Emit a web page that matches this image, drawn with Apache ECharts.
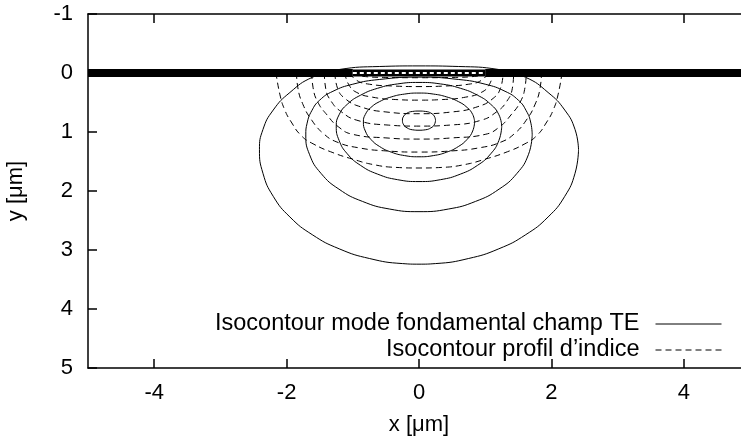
<!DOCTYPE html>
<html><head><meta charset="utf-8">
<script src="https://cdn.jsdelivr.net/npm/echarts@6/dist/echarts.min.js"></script>
<style>html,body{margin:0;padding:0;background:#fff;overflow:hidden}#c{width:760px;height:442px}</style>
</head><body><div id="c"></div>
<script>
// ---- data ----
const xTickValues = [-4, -2, 0, 2, 4];
const legendNames = ['Isocontour mode fondamental champ TE', 'Isocontour profil d\u2019indice'];

// field (TE mode) isocontours, closed curves [x, y]
const field1 = [[0.25,0.80],[0.23,0.73],[0.18,0.68],[0.1,0.652],[0,0.645],[-0.1,0.652],[-0.18,0.68],[-0.23,0.73],[-0.25,0.80],[-0.23,0.88],[-0.18,0.93],[-0.1,0.962],[0,0.97],[0.1,0.962],[0.18,0.93],[0.23,0.88],[0.25,0.80]];
const field2 = [[0.84,0.83],[0.811,0.703],[0.727,0.585],[0.594,0.484],[0.42,0.406],[0.217,0.357],[0,0.34],[-0.217,0.357],[-0.42,0.406],[-0.594,0.484],[-0.727,0.585],[-0.811,0.703],[-0.84,0.83],[-0.811,0.983],[-0.727,1.125],[-0.594,1.247],[-0.42,1.341],[-0.217,1.40],[0,1.42],[0.217,1.40],[0.42,1.341],[0.594,1.247],[0.727,1.125],[0.811,0.983],[0.84,0.83]];
const field3 = [[1.25,0.9],[1.207,0.708],[1.083,0.53],[0.884,0.377],[0.625,0.259],[0.324,0.185],[0,0.16],[-0.324,0.185],[-0.625,0.259],[-0.884,0.377],[-1.083,0.53],[-1.207,0.708],[-1.25,0.9],[-1.207,1.143],[-1.083,1.37],[-0.884,1.565],[-0.625,1.714],[-0.324,1.808],[0,1.84],[0.324,1.808],[0.625,1.714],[0.884,1.565],[1.083,1.37],[1.207,1.143],[1.25,0.9]];
const field4 = [[1.71,1.05],[1.69,0.85],[1.62,0.64],[1.5,0.46],[1.3,0.31],[1.0,0.19],[0.6,0.11],[0,0.07],[-0.6,0.11],[-1.0,0.19],[-1.3,0.31],[-1.5,0.46],[-1.62,0.64],[-1.69,0.85],[-1.71,1.05],[-1.652,1.386],[-1.481,1.70],[-1.209,1.969],[-0.855,2.176],[-0.443,2.306],[0,2.35],[0.443,2.306],[0.855,2.176],[1.209,1.969],[1.481,1.70],[1.652,1.386],[1.71,1.05]];
const field5 = [[2.41,1.3],[2.357,0.957],[2.202,0.628],[1.95,0.33],[1.613,0.074],[1.2,-0.06],[0.6,-0.11],[0,-0.12],[-0.6,-0.11],[-1.2,-0.06],[-1.613,0.074],[-1.95,0.33],[-2.202,0.628],[-2.357,0.957],[-2.41,1.3],[-2.357,1.70],[-2.202,2.09],[-1.95,2.44],[-1.613,2.74],[-1.205,2.98],[-0.745,3.145],[-0.252,3.23],[0,3.24],[0.252,3.23],[0.745,3.145],[1.205,2.98],[1.613,2.74],[1.95,2.44],[2.202,2.09],[2.357,1.70],[2.41,1.3]];

// index profile isocontours, open curves [x, y]
const indexA = [[-2.16,0],[-2.10,0.37],[-2.03,0.62],[-1.93,0.83],[-1.78,1.06],[-1.60,1.2],[-1.30,1.35],[-1.0,1.46],[-0.7,1.55],[-0.35,1.60],[0,1.61],[0.35,1.60],[0.7,1.55],[1.0,1.46],[1.30,1.35],[1.60,1.2],[1.78,1.06],[1.93,0.83],[2.03,0.62],[2.10,0.37],[2.16,0]];
const indexB = [[-1.85,0],[-1.83,0.25],[-1.75,0.54],[-1.62,0.8],[-1.45,1.02],[-1.24,1.17],[-0.9,1.27],[-0.5,1.32],[0,1.34],[0.5,1.32],[0.9,1.27],[1.24,1.17],[1.45,1.02],[1.62,0.8],[1.75,0.54],[1.83,0.25],[1.85,0]];
const indexC = [[-1.62,0],[-1.60,0.25],[-1.53,0.49],[-1.39,0.71],[-1.22,0.91],[-1.0,1.04],[-0.5,1.10],[0,1.12],[0.5,1.10],[1.0,1.04],[1.22,0.91],[1.39,0.71],[1.53,0.49],[1.60,0.25],[1.62,0]];
const indexD = [[-1.43,0],[-1.41,0.26],[-1.32,0.49],[-1.17,0.66],[-0.94,0.80],[-0.5,0.88],[0,0.90],[0.5,0.88],[0.94,0.80],[1.17,0.66],[1.32,0.49],[1.41,0.26],[1.43,0]];
const indexE = [[-1.27,0],[-1.23,0.26],[-1.12,0.43],[-0.89,0.57],[-0.5,0.66],[0,0.69],[0.5,0.66],[0.89,0.57],[1.12,0.43],[1.23,0.26],[1.27,0]];
const indexF = [[-1.12,0],[-1.06,0.2],[-0.94,0.33],[-0.7,0.41],[-0.35,0.45],[0,0.46],[0.35,0.45],[0.7,0.41],[0.94,0.33],[1.06,0.2],[1.12,0]];
const indexG = [[-1.04,0],[-0.95,0.12],[-0.75,0.19],[-0.4,0.22],[0,0.23],[0.4,0.22],[0.75,0.19],[0.95,0.12],[1.04,0]];
const indexH = [[-1.0,0],[-0.9,0.05],[-0.5,0.075],[0,0.08],[0.5,0.075],[0.9,0.05],[1.0,0]];

// surface (y = 0)
const surfaceLeft = [[-5,0],[-1,0]];
const surfaceRight = [[1,0],[5,0]];
const surfaceGuide = [[-1,0],[1,0]];

// ---- chart ----
const FONT = '"Liberation Sans", Arial, Helvetica, sans-serif';
const axisLineStyle = {color:'#000', width:1.5};
const chart = echarts.init(document.getElementById('c'), null, {renderer:'canvas'});

function contour(name, data, dashed) {
  return {type:'line', name:name, data:data, symbol:'none', showSymbol:false, smooth:0.5,
    silent:true, animation:false, z:2, xAxisIndex:0, yAxisIndex:0,
    lineStyle:{color:'#000', width:1, type: dashed ? [6,4] : 'solid'}};
}
function surface(data, width, color, dash, z) {
  return {type:'line', data:data, symbol:'none', showSymbol:false, silent:true, animation:false,
    z:z, xAxisIndex:0, yAxisIndex:0, lineStyle:{color:color, width:width, type:dash || 'solid', cap:'butt'}};
}

const series = [
  contour(legendNames[0], field1, false),
  contour(legendNames[0], field2, false),
  contour(legendNames[0], field3, false),
  contour(legendNames[0], field4, false),
  contour(legendNames[0], field5, false),
  contour(legendNames[1], indexA, true),
  contour(legendNames[1], indexB, true),
  contour(legendNames[1], indexC, true),
  contour(legendNames[1], indexD, true),
  contour(legendNames[1], indexE, true),
  contour(legendNames[1], indexF, true),
  contour(legendNames[1], indexG, true),
  contour(legendNames[1], indexH, true),
  surface(surfaceLeft, 8, '#000', null, 5),
  surface(surfaceRight, 8, '#000', null, 5),
  surface(surfaceGuide, 7, '#000', null, 5),
  surface(surfaceGuide, 2, '#fff', [4,3], 6)
];

const tickCommon = {inside:true, length:9, lineStyle:axisLineStyle};

chart.setOption({
  animation:false,
  backgroundColor:'#fff',
  textStyle:{fontFamily:FONT},
  grid:{left:88, top:14, width:662, bottom:74, containLabel:false, outerBoundsMode:'none'},
  xAxis:[
    {type:'value', position:'bottom', min:-5, max:5,
     axisLine:{onZero:false, lineStyle:axisLineStyle},
     axisTick:Object.assign({customValues:xTickValues}, tickCommon),
     axisLabel:{customValues:xTickValues, fontSize:22, color:'#000', margin:14, fontFamily:FONT},
     splitLine:{show:false},
     name:'x [\u03bcm]', nameLocation:'middle', nameGap:46,
     nameTextStyle:{fontSize:22, color:'#000', fontFamily:FONT}},
    {type:'value', position:'top', min:-5, max:5,
     axisLine:{onZero:false, lineStyle:axisLineStyle},
     axisTick:Object.assign({customValues:xTickValues}, tickCommon),
     axisLabel:{show:false}, splitLine:{show:false}}
  ],
  yAxis:[
    {type:'value', position:'left', inverse:true, min:-1, max:5, interval:1,
     axisLine:{onZero:false, lineStyle:axisLineStyle},
     axisTick:tickCommon,
     axisLabel:{fontSize:22, color:'#000', margin:15, fontFamily:FONT},
     splitLine:{show:false},
     name:'y [\u03bcm]', nameLocation:'middle', nameGap:61,
     nameTextStyle:{fontSize:22, color:'#000', fontFamily:FONT}},
    {type:'value', position:'right', inverse:true, min:-1, max:5, interval:1,
     axisLine:{onZero:false, lineStyle:axisLineStyle},
     axisTick:tickCommon,
     axisLabel:{show:false}, splitLine:{show:false}}
  ],
  legend:{data:legendNames, orient:'vertical', right:33, top:307, align:'right',
    itemWidth:66, itemHeight:14, itemGap:2, selectedMode:false,
    itemStyle:{color:'rgba(0,0,0,0)', borderColor:'rgba(0,0,0,0)', borderWidth:0, opacity:0},
    lineStyle:{width:1, color:'#000'},
    textStyle:{fontSize:23.5, lineHeight:22, color:'#000', fontFamily:FONT, padding:[0,11,0,0]}},
  series:series
});
</script></body></html>
